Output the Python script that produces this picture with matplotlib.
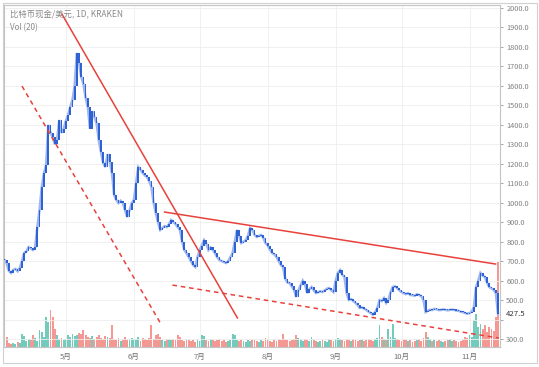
import matplotlib
matplotlib.use("Agg")
import matplotlib.pyplot as plt
import matplotlib.transforms as mtransforms
from matplotlib.patches import Rectangle
import numpy as np

plt.rcParams['font.family'] = ['Noto Sans CJK SC', 'DejaVu Sans']

# ---------------- data ----------------
start_doy = 93  # 2018-04-03, day of year of the first candle

closes = [
    706, 690, 650, 639, 655, 660, 648, 665,                      # 93-100
    700, 742, 750, 772, 765, 757, 770, 875, 962, 1080,           # 101-110
    1150, 1194, 1400, 1360, 1337, 1300, 1322, 1425, 1358, 1380,  # 111-120
    1420, 1450, 1492, 1527, 1600, 1769, 1720, 1646, 1610, 1540,  # 121-130
    1492, 1380, 1470, 1440, 1409, 1320, 1260, 1204, 1183, 1250,  # 131-140
    1210, 1153, 1040, 1014, 998, 1010, 998, 960, 926, 960,       # 141-150
    998, 1014, 1100, 1183, 1170, 1153, 1140, 1132, 1110, 1081,   # 151-160
    1000, 947, 900, 860, 870, 880, 875, 890, 911, 900,           # 161-170
    890, 875, 860, 800, 757, 740, 721, 700, 680, 670,            # 171-180
    720, 757, 780, 808, 790, 757, 770, 757, 740, 720,            # 181-190
    706, 700, 695, 690, 700, 720, 742, 800, 860, 830,            # 191-200
    793, 800, 808, 830, 870, 860, 835, 824, 830, 834,            # 201-210
    820, 793, 780, 760, 742, 735, 721, 700, 680, 670,            # 211-220
    610, 590, 587, 570, 552, 516, 550, 575, 600, 580,            # 221-230
    536, 555, 567, 550, 536, 540, 545, 541, 550, 558,            # 231-240
    562, 550, 541, 600, 639, 654, 630, 618, 536, 500,            # 241-250
    505, 495, 485, 475, 459, 462, 455, 449, 440, 433,            # 251-260
    425, 438, 460, 500, 495, 510, 485, 500, 540, 567,            # 261-270
    570, 562, 550, 541, 535, 530, 535, 526, 525, 522,            # 271-280
    530, 526, 520, 500, 438, 445, 450, 449, 455, 452,            # 281-290
    448, 449, 452, 450, 447, 449, 451, 449, 446, 445,            # 291-300
    440, 438, 433, 430, 433, 440, 464, 567, 600, 639,            # 301-310
    625, 618, 590, 567, 560, 552, 536, 427.5,                    # 311-318
]

volumes = [
    12, 10, 4, 3, 4, 3, 5, 4,
    13, 11, 6, 8, 7, 12, 9, 6, 17, 15,
    10, 30, 25, 37, 30, 18, 12, 8, 9, 7,
    8, 12, 10, 13, 11, 12, 14, 13, 17, 12,
    10, 9, 11, 8, 10, 12, 9, 8, 11, 10,
    9, 22, 8, 7, 9, 6, 8, 10, 7, 8,
    9, 7, 8, 10, 6, 9, 8, 7, 9, 22,
    8, 12, 13, 10, 7, 6, 8, 8, 7, 8,
    7, 12, 10, 7, 6, 8, 7, 6, 7, 5,
    7, 6, 12, 11, 7, 6, 8, 7, 6, 7,
    8, 6, 7, 5, 6, 7, 13, 12, 7, 6,
    7, 6, 5, 7, 6, 8, 7, 6, 5, 7,
    6, 9, 7, 6, 5, 7, 6, 8, 7, 13,
    8, 7, 6, 7, 8, 12, 9, 7, 6, 8,
    7, 6, 10, 7, 6, 5, 6, 7, 6, 5,
    8, 7, 6, 8, 9, 8, 7, 6, 8, 7,
    6, 8, 7, 6, 7, 8, 6, 7, 8, 7,
    6, 8, 9, 22, 10, 8, 7, 18, 10, 23,
    9, 8, 7, 6, 8, 7, 6, 7, 5, 6,
    7, 8, 6, 9, 15, 10, 8, 6, 7, 6,
    7, 6, 5, 6, 7, 8, 6, 7, 6, 5,
    6, 7, 10, 9, 12, 10, 27, 33, 20, 23,
    18, 22, 15, 20, 18, 16, 30, 85,
]

month_ticks = [121, 152, 182, 213, 244, 274, 305]
month_labels = ["5月", "6月", "7月", "8月", "9月", "10月", "11月"]
price_ticks = list(range(300, 2001, 100))
last_price = 427.5
title_text = "比特币现金/美元, 1D, KRAKEN"
vol_text = "Vol (20)"

# trend lines: (day-of-year, price) end points
solid_line_1 = ([119.2, 199.2], [1969, 408])
solid_line_2 = ([166.0, 316.9], [952, 685])
dashed_line_1 = ([101.0, 164.6], [1599, 372])
dashed_line_2 = ([169.6, 318.3], [577, 305])

# ---------------- drawing ----------------
days = np.arange(start_doy, start_doy + len(closes))
c = np.array(closes, dtype=float)
o = np.r_[c[0], c[:-1]]
up = c >= o

fig = plt.figure(figsize=(5.39, 3.67), dpi=100, facecolor='white')
rect = [4 / 539, 20 / 367, 496 / 539, 342 / 367]

vax = fig.add_axes(rect, zorder=0)
ax = fig.add_axes(rect, zorder=1)
ax.patch.set_alpha(0)

xlim = (92.8, 318.9)

# volume
vcol = np.where(up, '#74cbbb', '#f39893')
vax.bar(days, volumes, width=0.85, color=vcol, linewidth=0)
vax.set_xlim(*xlim)
vax.set_ylim(0, 342)
vax.axis('off')

# price: light halo line + candle bodies
ax.plot(days, c, color='#9db5ee', lw=1.8, zorder=2.5, solid_joinstyle='miter')
body_bottom = np.minimum(o, c)
body_h = np.maximum(np.abs(c - o), 6)
ax.bar(days, body_h, bottom=body_bottom, width=0.8, color='#2f62d3', linewidth=0, zorder=3)

# trend lines
red = '#e8413c'
ax.plot(*solid_line_1, color=red, lw=1.1, zorder=4)
ax.plot(*solid_line_2, color=red, lw=1.1, zorder=4)
ax.plot(*dashed_line_1, color=red, lw=1.1, ls=(0, (3, 2.5)), zorder=4)
ax.plot(*dashed_line_2, color=red, lw=1.1, ls=(0, (3, 2.5)), zorder=4)

ax.set_xlim(*xlim)
ax.set_ylim(258.9, 2015.4)

ax.set_xticks(month_ticks)
ax.set_xticklabels(month_labels)
ax.set_yticks(price_ticks)
# the 400.0 label sits under the last-price tag in the reference
ax.set_yticklabels(["" if p == 400 else f"{p:.1f}" for p in price_ticks])
ax.yaxis.tick_right()
ax.tick_params(axis='y', which='both', length=2.5, width=0.6, color='#999999',
               labelsize=5.3, labelcolor='#808080', pad=2)
ax.tick_params(axis='x', length=0, labelsize=5.5, labelcolor='#707070', pad=4)
ax.grid(True, color='#eeeeee', lw=0.6, zorder=0)
ax.set_axisbelow(True)
for s in ax.spines.values():
    s.set_color('#c4c4c4')
    s.set_linewidth(0.8)

# last price tag
trans = mtransforms.blended_transform_factory(ax.transAxes, ax.transData)
ax.text(1.012, last_price, f"{last_price:.1f}", transform=trans, fontsize=5.6,
        color='#333333', va='center', ha='left', clip_on=False,
        bbox=dict(boxstyle='square,pad=0.15', fc='white', ec='none'))

# header texts
fig.text(10 / 539, 1 - 15 / 367, title_text, fontsize=6, color='#8a8a8a', va='center')
fig.text(10 / 539, 1 - 28 / 367, vol_text, fontsize=5.8, color='#8a8a8a', va='center')

# outer frame
fig.add_artist(Rectangle((3 / 539, 4 / 367), 534 / 539, 360 / 367,
                         transform=fig.transFigure, fill=False, ec='#d0d0d0', lw=0.8))

fig.savefig("out.png", dpi=100, facecolor='white')
